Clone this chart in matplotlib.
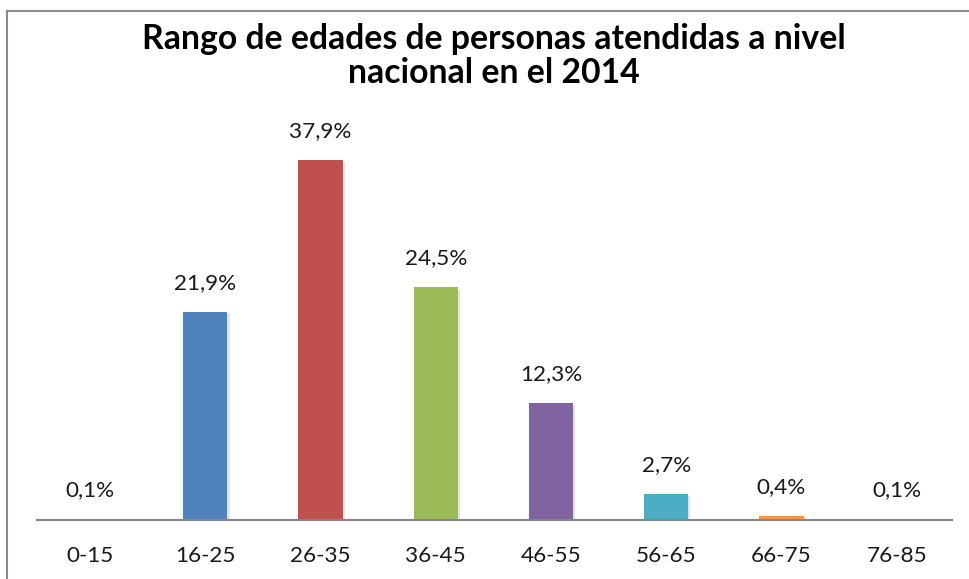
import matplotlib
matplotlib.use("Agg")
import matplotlib.pyplot as plt
from matplotlib.lines import Line2D
import matplotlib.patheffects as pe

categories = ["0-15", "16-25", "26-35", "36-45", "46-55", "56-65", "66-75", "76-85"]
values = [0.1, 21.9, 37.9, 24.5, 12.3, 2.7, 0.4, 0.1]
labels = ["0,1%", "21,9%", "37,9%", "24,5%", "12,3%", "2,7%", "0,4%", "0,1%"]
colors = ["#E6E6E6", "#4F81BD", "#C0504D", "#9BBB59", "#8064A2", "#4BACC6", "#F79646", "#E6E6E6"]
title = "Rango de edades de personas atendidas a nivel\nnacional en el 2014"

W, H = 970, 579
fig = plt.figure(figsize=(W / 100, H / 100), dpi=100)
fig.patch.set_facecolor("white")
plt.rcParams['font.family'] = ['Lato', 'DejaVu Sans']

ax_left, ax_right = 37 / W, 952 / W
ax_bottom, ax_top = (H - 520) / H, (H - 110) / H
ax = fig.add_axes([ax_left, ax_bottom, ax_right - ax_left, ax_top - ax_bottom])

x = list(range(len(categories)))
bars = ax.bar(x, values, width=0.385, color=colors, zorder=3)
for b in bars:
    b.set_path_effects([pe.SimplePatchShadow(offset=(1.5, -1.5), shadow_rgbFace="#B0B0B0", alpha=0.35), pe.Normal()])

for xi, v, lab in zip(x, values, labels):
    ax.annotate(lab, (xi, v), xytext=(0, 21), textcoords="offset points",
                ha="center", va="center", fontsize=16.2, color="#1a1a1a")

ax.set_xlim(-0.46, 7.48)
ax.set_ylim(0, 43.2)
ax.set_xticks(x)
ax.set_xticklabels(categories, fontsize=16.2, color="#1a1a1a")
ax.tick_params(axis="x", length=0, pad=19)
ax.set_yticks([])
for s in ["top", "right", "left"]:
    ax.spines[s].set_visible(False)
ax.spines["bottom"].set_color("#868686")
ax.spines["bottom"].set_linewidth(1.5)
ax.spines["bottom"].set_zorder(4)

fig.text(494 / W, 1 - 56 / H, title, ha="center", va="center", fontsize=24.3,
         fontweight="bold", linespacing=1.07, color="#000000")

# outer chart border (top and left)
fig.add_artist(Line2D([7.5 / W, 1.0], [1 - 10.5 / H, 1 - 10.5 / H], color="#8C8C8C", lw=1.5, transform=fig.transFigure))
fig.add_artist(Line2D([7.5 / W, 7.5 / W], [0.0, 1 - 10.5 / H], color="#8C8C8C", lw=1.5, transform=fig.transFigure))

fig.savefig("out.png", dpi=100, facecolor="white")
